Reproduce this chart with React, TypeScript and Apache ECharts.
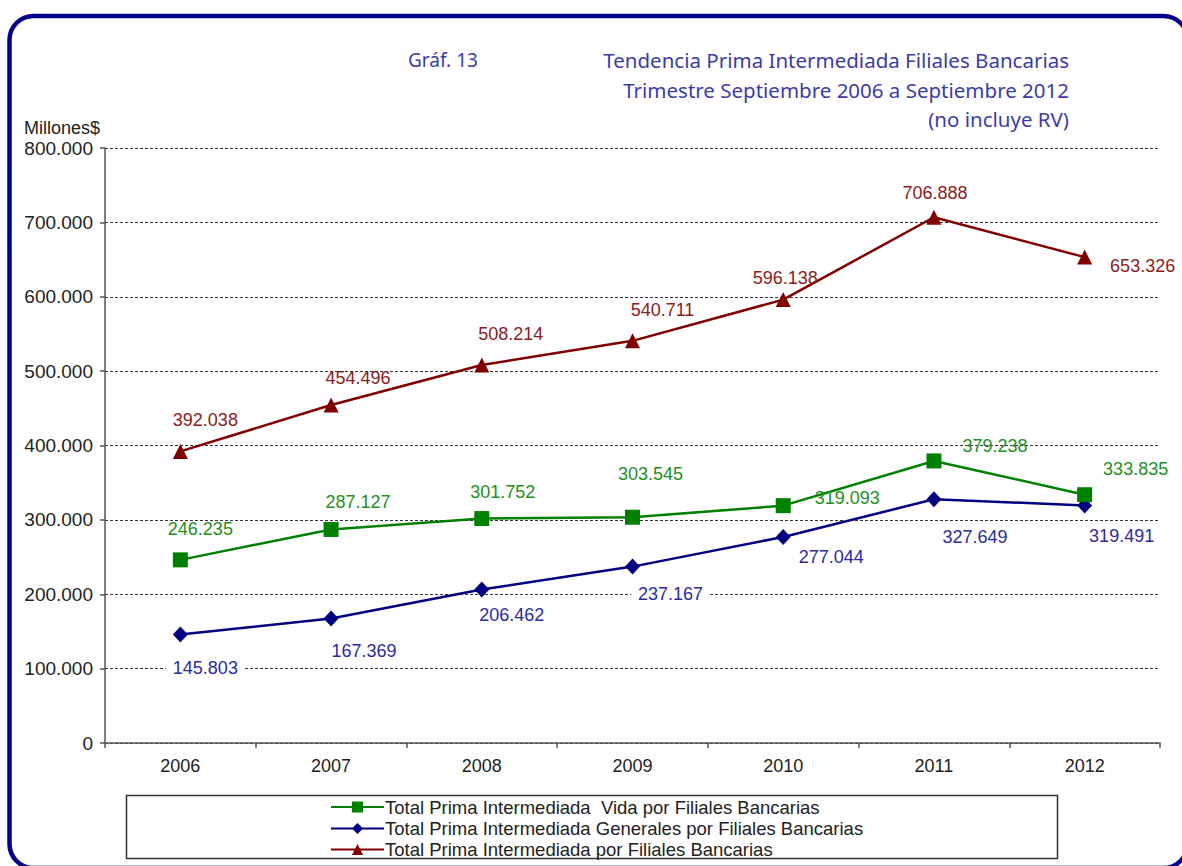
import React, { useEffect, useRef } from "react";
import * as echarts from "echarts";

const years = ["2006", "2007", "2008", "2009", "2010", "2011", "2012"];
const vida = [246235, 287127, 301752, 303545, 319093, 379238, 333835];
const generales = [145803, 167369, 206462, 237167, 277044, 327649, 319491];
const total = [392038, 454496, 508214, 540711, 596138, 706888, 653326];

const seriesNames = [
  "Total Prima Intermediada  Vida por Filiales Bancarias",
  "Total Prima Intermediada Generales por Filiales Bancarias",
  "Total Prima Intermediada por Filiales Bancarias",
];

const titleLines = [
  "Tendencia Prima Intermediada Filiales Bancarias",
  "Trimestre Septiembre 2006 a Septiembre 2012",
  "(no incluye RV)",
];

// label offsets (style only)
const vidaOffsets = [[20, -31], [27, -27], [21, -27], [18, -43], [64, -8], [61, -15], [51, -26]];
const genOffsets = [[25, 33], [33, 32], [30, 26], [38, 27], [48, 20], [41, 38], [37, 31]];
const totOffsets = [[25, -31], [27, -27], [29, -31], [30, -31], [2, -22], [1, -24], [58, 9]];

const legendTops = [792, 813.5, 834.5];

const fmt = (v: number) => String(Math.round(v)).replace(/\B(?=(\d{3})+(?!\d))/g, ".");

const FONT = "Liberation Sans, Arial, sans-serif";
const TFONT = "Noto Sans, sans-serif";

function mkData(vals: number[], offs: number[][], color: string, bg?: string) {
  return vals.map((v, i) => ({
    value: v,
    label: {
      show: true,
      position: "inside",
      offset: offs[i],
      color,
      fontSize: 18,
      fontFamily: FONT,
      formatter: (p: any) => fmt(p.value),
      backgroundColor: bg,
      padding: bg ? [1, 7] : 0,
    },
  }));
}

export default function App() {
  const ref = useRef<HTMLDivElement>(null);
  useEffect(() => {
    if (!ref.current) return;
    const chart = echarts.init(ref.current, undefined, { renderer: "svg" });
    chart.setOption({
      animation: false,
      backgroundColor: "#ffffff",
      grid: { left: 105, right: 22, top: 148, bottom: 123, containLabel: false },
      xAxis: {
        type: "category",
        data: years,
        boundaryGap: true,
        axisLine: { lineStyle: { color: "#555", width: 1.5 } },
        axisTick: { show: true, length: 5, inside: false, lineStyle: { color: "#555", width: 1.5 } },
        axisLabel: { color: "#222", fontSize: 18, fontFamily: FONT, margin: 14 },
        splitLine: { show: false },
      },
      yAxis: {
        type: "value",
        min: 0,
        max: 800000,
        interval: 100000,
        axisLine: { show: true, lineStyle: { color: "#555", width: 1.5 } },
        axisTick: { show: true, length: 5, lineStyle: { color: "#555", width: 1.5 } },
        axisLabel: {
          color: "#222",
          fontSize: 19,
          fontFamily: FONT,
          margin: 12,
          formatter: (v: number) => fmt(v),
        },
        splitLine: { show: true, lineStyle: { color: "#333", width: 1, type: [3, 2] } },
      },
      legend: seriesNames.map((n, i) => ({
        orient: "vertical",
        left: 325,
        top: legendTops[i],
        itemWidth: 53,
        itemHeight: 14,
        itemGap: 0,
        textStyle: { color: "#222", fontSize: 18.5, fontFamily: FONT, lineHeight: 20, padding: [0, 0, 0, -4] },
        data: [n],
      })),
      graphic: [
        {
          type: "rect",
          z: 0,
          shape: { x: 9.5, y: 16, width: 1178, height: 852, r: 24 },
          style: { fill: "none", stroke: "#00008B", lineWidth: 4.5 },
        },
        {
          type: "rect",
          z: 0,
          shape: { x: 126.5, y: 795.5, width: 931, height: 63 },
          style: { fill: "#fff", stroke: "#333", lineWidth: 1.5 },
        },
        {
          type: "text",
          x: 24,
          y: 128,
          style: { text: "Millones$", fill: "#222", fontSize: 18, fontFamily: FONT, verticalAlign: "middle" },
        },
        {
          type: "text",
          x: 408,
          y: 60,
          style: { text: "Gráf. 13", fill: "#3c3ca5", fontSize: 19, fontFamily: TFONT, verticalAlign: "middle" },
        },
        ...titleLines.map((t, i) => ({
          type: "text",
          x: 1069,
          y: 60 + i * 29.5,
          style: {
            text: t,
            fill: "#3c3ca5",
            fontSize: 20.5,
            fontFamily: TFONT,
            align: "right",
            verticalAlign: "middle",
          },
        })),
      ],
      series: [
        {
          name: seriesNames[0],
          type: "line",
          data: mkData(vida, vidaOffsets, "#1f8f1f"),
          symbol: "rect",
          symbolSize: 15,
          color: "#008000",
          lineStyle: { width: 2.5, color: "#008000" },
          itemStyle: { color: "#008000" },
          z: 3,
        },
        {
          name: seriesNames[1],
          type: "line",
          data: mkData(generales, genOffsets, "#2b2ba0", "#ffffff"),
          symbol: "diamond",
          symbolSize: [15, 16],
          color: "#000080",
          lineStyle: { width: 2.5, color: "#000080" },
          itemStyle: { color: "#000080" },
          z: 2,
        },
        {
          name: seriesNames[2],
          type: "line",
          data: mkData(total, totOffsets, "#8b1c1c"),
          symbol: "triangle",
          symbolSize: 15,
          color: "#800000",
          lineStyle: { width: 2.5, color: "#800000" },
          itemStyle: { color: "#800000" },
          z: 3,
        },
      ],
    });
    return () => chart.dispose();
  }, []);
  return (
    <div
      ref={ref}
      style={{ position: "fixed", left: 0, top: 0, width: 1182, height: 866, background: "#fff" }}
    />
  );
}
